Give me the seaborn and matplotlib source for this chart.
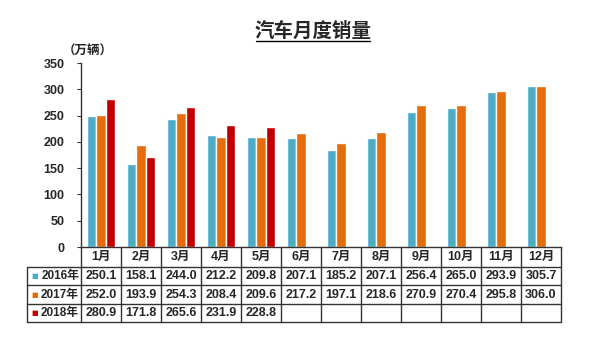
import matplotlib
matplotlib.use("Agg")
import matplotlib.pyplot as plt
import matplotlib.transforms as mtransforms
from matplotlib.lines import Line2D
import seaborn as sns
import pandas as pd
import numpy as np

months = ["1月", "2月", "3月", "4月", "5月", "6月", "7月", "8月", "9月", "10月", "11月", "12月"]
years = ["2016年", "2017年", "2018年"]
sales_2016 = [250.1, 158.1, 244.0, 212.2, 209.8, 207.1, 185.2, 207.1, 256.4, 265.0, 293.9, 305.7]
sales_2017 = [252.0, 193.9, 254.3, 208.4, 209.6, 217.2, 197.1, 218.6, 270.9, 270.4, 295.8, 306.0]
sales_2018 = [280.9, 171.8, 265.6, 231.9, 228.8, None, None, None, None, None, None, None]
colors = ["#4BACC6", "#E46C0A", "#C00000"]
title = "汽车月度销量"
unit = "（万辆）"

sns.set_theme(style="white")
plt.rcParams["font.family"] = ["Liberation Sans", "Noto Sans CJK SC", "DejaVu Sans"]
plt.rcParams["font.weight"] = "bold"

series = [sales_2016, sales_2017, sales_2018]
rows = []
for yr, vals in zip(years, series):
    for m, v in zip(months, vals):
        rows.append({"month": m, "year": yr, "value": np.nan if v is None else v})
df = pd.DataFrame(rows)

W, H = 600, 340
fig = plt.figure(figsize=(6, 3.4), dpi=100)
fig.patch.set_facecolor("white")
ax_l, ax_r, ax_t, ax_b = 81, 561, 63, 247
ax = fig.add_axes([ax_l / W, 1 - ax_b / H, (ax_r - ax_l) / W, (ax_b - ax_t) / H])

sns.barplot(data=df, x="month", y="value", hue="year", order=months, hue_order=years,
            palette=colors, saturation=1, width=0.72, gap=0.04, legend=False, ax=ax)

ax.set_xlim(-0.5, 11.5)
ax.set_ylim(0, 350)
ax.set_yticks(range(0, 351, 50))
ax.set_xticks([])
ax.set_xlabel("")
ax.set_ylabel("")
for s in ["top", "right"]:
    ax.spines[s].set_visible(False)
for s in ["left", "bottom"]:
    ax.spines[s].set_color("#333333")
    ax.spines[s].set_linewidth(1.0)
ax.tick_params(axis="y", left=True, length=3, width=0.8, color="#333333", pad=9,
               labelsize=9)
for lbl in ax.get_yticklabels():
    lbl.set_fontweight("bold")

def py(y):
    return 1 - y / H

# title with underline
fig.text(313 / W, py(31), title, ha="center", va="center", fontsize=14, fontweight="bold",
         family=["Noto Sans CJK SC"])
fig.add_artist(Line2D([256 / W, 370 / W], [py(41), py(41)], color="black", lw=1.0,
                      transform=fig.transFigure))
fig.text(88 / W, py(51), unit, ha="center", va="center", fontsize=9, fontweight="bold",
         family=["Noto Sans CJK SC"])

# table
tr = mtransforms.blended_transform_factory(ax.transData, fig.transFigure)
x_left_tab = -0.5 - (ax_l - 27) / 40.0
row_lines = [266.7, 285.3, 303.8, 322.0]
header_c = (247 + row_lines[0]) / 2
row_centers = [(row_lines[i] + row_lines[i + 1]) / 2 for i in range(3)]
lc = "#333333"
lw = 1.0
for i, y in enumerate(row_lines):
    fig.add_artist(Line2D([x_left_tab, 11.5], [py(y), py(y)], color=lc, lw=lw, transform=tr))
fig.add_artist(Line2D([x_left_tab, x_left_tab], [py(row_lines[0]), py(row_lines[-1])],
                      color=lc, lw=lw, transform=tr))
for k in range(13):
    xb = -0.5 + k
    fig.add_artist(Line2D([xb, xb], [py(247), py(row_lines[-1])], color=lc, lw=lw, transform=tr))

for j, m in enumerate(months):
    fig.text(j, py(header_c), m, transform=tr, ha="center", va="center", fontsize=9,
             fontweight="bold")
for i, (yr, vals) in enumerate(zip(years, series)):
    yc = py(row_centers[i])
    fig.text(x_left_tab + 0.1, yc, "■", transform=tr, ha="left", va="center",
             fontsize=5, color=colors[i], family=["DejaVu Sans"])
    fig.text(-0.55, yc, yr, transform=tr, ha="right", va="center", fontsize=8.5,
             fontweight="bold")
    for j, v in enumerate(vals):
        if v is not None:
            fig.text(j, yc, f"{v:.1f}", transform=tr, ha="center", va="center",
                     fontsize=9, fontweight="bold")

fig.savefig("out.png", dpi=100, facecolor="white")
